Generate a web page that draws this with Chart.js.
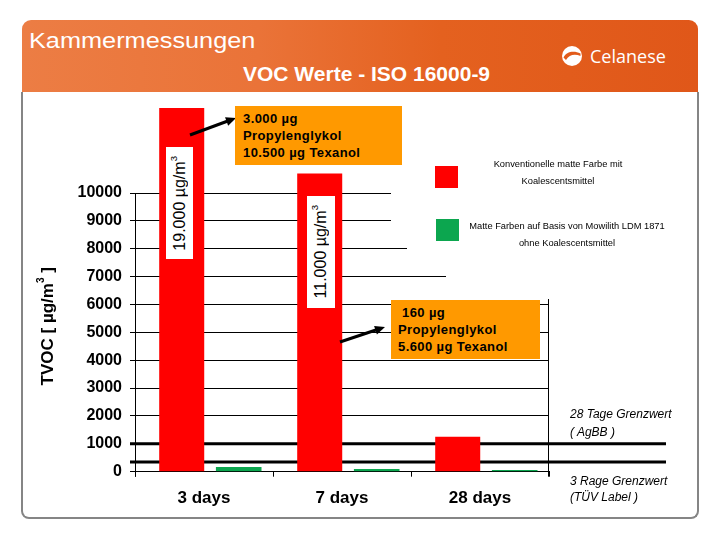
<!DOCTYPE html>
<html>
<head>
<meta charset="utf-8">
<script src="https://cdn.jsdelivr.net/npm/chart.js@4.4.1/dist/chart.umd.min.js"></script>
<style>
  body { margin: 0; width: 720px; height: 540px; position: relative; overflow: hidden; background: #fff;
         font-family: Arial, "Liberation Sans", sans-serif; }
  #header { position: absolute; left: 22px; top: 20px; width: 676px; height: 72px; border-radius: 9px 9px 0 0;
            background: linear-gradient(90deg, #ec7d44 0%, #ea7338 35%, #e4611f 62%, #e05719 100%); }
  #frame { position: absolute; left: 21px; top: 92px; width: 674px; height: 425px;
           border: 2px solid #858585; border-top: none; border-radius: 0 0 8px 8px; }
  .abs { position: absolute; }
  #title { left: 29px; top: 30px; color: #fff; font-size: 22px; line-height: 22px; transform: scaleX(1.15); transform-origin: left; }
  #subtitle { left: 243px; top: 63px; color: #fff; font-size: 21px; line-height: 21px; font-weight: bold; }
  #brand { left: 590px; top: 47px; color: #fff; font-family: "Open Sans", sans-serif; font-size: 18px; line-height: 18px; }
  #logo { left: 561px; top: 45px; }
  canvas { position: absolute; left: 0; top: 0; }
  .note { background: #ff9900; font-weight: bold; font-size: 13px; line-height: 17px; letter-spacing: 0.4px; color: #000; box-sizing: border-box; }
  .vlabel { background: #fff; display: flex; align-items: center; justify-content: center; }
  .vlabel span { writing-mode: vertical-rl; transform: rotate(180deg); font-size: 16px; white-space: nowrap; }
  .vlabel sup, #ytitle sup { font-size: 60%; line-height: 0; }
  .key { font-size: 9.3px; text-align: center; line-height: 17px; color: #000; }
  .swatch { width: 23px; height: 22px; }
  .limit { left: 570px; font-size: 12px; font-style: italic; color: #000; }
  #ytitle { left: 36px; top: 250px; width: 24px; height: 152px; display: flex; align-items: center; justify-content: center; }
  #ytitle span { writing-mode: vertical-rl; transform: rotate(180deg); font-size: 17px; font-weight: bold; white-space: nowrap; }
</style>
</head>
<body>
<div id="header"></div>
<div id="frame"></div>
<div id="title" class="abs">Kammermessungen</div>
<div id="subtitle" class="abs">VOC Werte - ISO 16000-9</div>
<svg id="logo" class="abs" width="22" height="22" viewBox="0 0 22 22">
  <circle cx="11" cy="11" r="10" fill="#fff"/>
  <path d="M2.5 12.5 C5 6.5, 13 5, 19.5 8.5 L19.5 11 C14 8.5, 8 9.5, 5 15 Z" fill="#e25b1a"/>
</svg>
<div id="brand" class="abs">Celanese</div>

<canvas id="vocChart" width="720" height="540"></canvas>

<div id="ytitle" class="abs"><span>TVOC [ µg/m<sup>3</sup> ]</span></div>

<div class="abs vlabel" style="left:166px; top:147px; width:27px; height:112px;"><span>19.000 µg/m<sup>3</sup></span></div>
<div class="abs vlabel" style="left:307px; top:196px; width:28px; height:112px;"><span>11.000 µg/m<sup>3</sup></span></div>

<div class="abs note" style="left:235px; top:106px; width:167px; height:59px; padding:4px 0 0 8px;">3.000 µg<br>Propylenglykol<br>10.500 µg Texanol</div>
<div class="abs note" style="left:391px; top:300px; width:149px; height:59px; padding:4px 0 0 7px;">&nbsp;160 µg<br>Propylenglykol<br>5.600 µg Texanol</div>

<div class="abs swatch" style="left:435px; top:166px; background:#ff0000;"></div>
<div class="abs swatch" style="left:436px; top:219px; background:#0ca64f;"></div>
<div class="abs key" style="left:478px; top:156px; width:160px;">Konventionelle matte Farbe mit<br>Koalescentsmittel</div>
<div class="abs key" style="left:467px; top:218px; width:200px;">Matte Farben auf Basis von Mowilith LDM 1871<br>ohne Koalescentsmittel</div>

<div class="abs limit" style="top:405px; line-height:18px;">28 Tage Grenzwert<br>( AgBB )</div>
<div class="abs limit" style="top:473px; line-height:16px;">3 Rage Grenzwert<br>(TÜV Label )</div>

<script>
// data
const days = ['3 days', '7 days', '28 days'];
const conventional = [19000, 10700, 1250];   // 3-day bar runs off the top (19.000 µg/m³)
const mowilith = [170, 100, 60];
const yTicks = [0, 1000, 2000, 3000, 4000, 5000, 6000, 7000, 8000, 9000, 10000];
const limitValues = [1000, 350];              // AgBB 28 Tage, TÜV 3 Tage
const yMax = 13050;

// the bar pairs sit a little right of the category centres on the slide
const barShift = 0.045;
const toPoints = arr => arr.map((v, i) => ({ x: i, y: v }));

const extras = {
    id: 'extras',
    beforeDatasetsDraw(chart) {
        const { ctx, chartArea } = chart;
        const y = chart.scales.y;
        const top = y.getPixelForValue(yTicks[yTicks.length - 1]);
        ctx.save();
        ctx.strokeStyle = '#000';
        ctx.lineWidth = 1;
        ctx.beginPath();
        ctx.moveTo(Math.round(chartArea.left) + 0.5, top);
        ctx.lineTo(Math.round(chartArea.left) + 0.5, chartArea.bottom + 5);
        ctx.moveTo(Math.round(chartArea.right) - 0.5, top);
        ctx.lineTo(Math.round(chartArea.right) - 0.5, chartArea.bottom + 5);
        ctx.stroke();

        // legend panel hides the grid behind it
        ctx.fillStyle = '#fff';
        ctx.fillRect(391, 180, 170, 55);
        ctx.fillRect(407, 235, 154, 27);
        ctx.fillRect(446, 262, 115, 37);

        ctx.lineWidth = 3;
        limitValues.forEach(v => {
            const py = y.getPixelForValue(v);
            ctx.beginPath();
            ctx.moveTo(chartArea.left - 5, py);
            ctx.lineTo(chartArea.right + 117, py);
            ctx.stroke();
        });
        ctx.restore();
    },
    afterDatasetsDraw(chart) {
        const { ctx } = chart;
        const arrow = (x1, y1, x2, y2) => {
            const a = Math.atan2(y2 - y1, x2 - x1);
            ctx.beginPath();
            ctx.moveTo(x1, y1);
            ctx.lineTo(x2 - 8 * Math.cos(a), y2 - 8 * Math.sin(a));
            ctx.stroke();
            ctx.beginPath();
            ctx.moveTo(x2, y2);
            ctx.lineTo(x2 - 10 * Math.cos(a) + 4.5 * Math.sin(a), y2 - 10 * Math.sin(a) - 4.5 * Math.cos(a));
            ctx.lineTo(x2 - 10 * Math.cos(a) - 4.5 * Math.sin(a), y2 - 10 * Math.sin(a) + 4.5 * Math.cos(a));
            ctx.closePath();
            ctx.fill();
        };
        ctx.save();
        ctx.strokeStyle = '#000';
        ctx.fillStyle = '#000';
        ctx.lineWidth = 3;
        arrow(190, 135, 236, 118);
        arrow(340, 342, 385, 327);
        ctx.restore();
    }
};

new Chart(document.getElementById('vocChart'), {
    type: 'bar',
    data: {
        labels: days,
        datasets: [{
            label: 'Konventionelle matte Farbe mit Koalescentsmittel',
            data: toPoints(conventional),
            xAxisID: 'xb',
            backgroundColor: '#ff0000',
            categoryPercentage: 0.826,
            barPercentage: 0.79
        }, {
            label: 'Matte Farben auf Basis von Mowilith LDM 1871 ohne Koalescentsmittel',
            data: toPoints(mowilith),
            xAxisID: 'xb',
            backgroundColor: '#0ca64f',
            categoryPercentage: 0.826,
            barPercentage: 0.8
        }]
    },
    options: {
        responsive: false,
        animation: false,
        layout: {
            padding: { left: 34, top: 108, right: 171, bottom: 0 }
        },
        plugins: {
            legend: { display: false },
            tooltip: { enabled: false }
        },
        scales: {
            x: {
                type: 'category',
                afterFit: scale => { scale.height = 68.3; },
                grid: { drawOnChartArea: false, drawTicks: true, tickLength: 5, color: '#000', offset: true },
                border: { display: true, color: '#000' },
                ticks: {
                    color: '#000',
                    padding: 11,
                    font: { family: 'Arial, "Liberation Sans", sans-serif', size: 17, weight: 'bold' }
                }
            },
            xb: {
                type: 'linear',
                display: false,
                offset: false,
                grid: { offset: false },
                min: -0.5 - barShift,
                max: days.length - 0.5 - barShift,
                afterBuildTicks: scale => { scale.ticks = days.map((d, i) => ({ value: i })); }
            },
            y: {
                min: 0,
                max: yMax,
                afterFit: scale => { scale.width = 101; },
                afterBuildTicks: scale => { scale.ticks = yTicks.map(v => ({ value: v })); },
                grid: { color: '#000', lineWidth: 1, tickLength: 5 },
                border: { display: false },
                ticks: {
                    color: '#000',
                    padding: 8,
                    callback: v => String(v),
                    font: { family: 'Arial, "Liberation Sans", sans-serif', size: 16, weight: 'bold' }
                }
            }
        }
    },
    plugins: [extras]
});
</script>
</body>
</html>
